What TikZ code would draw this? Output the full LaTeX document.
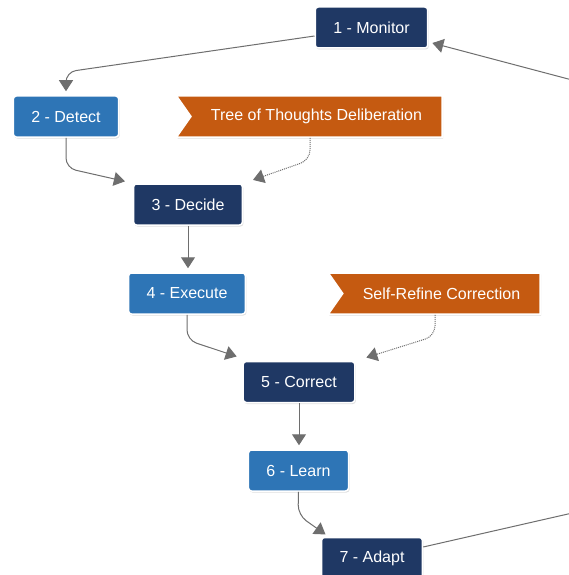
\documentclass[tikz,border=0pt]{standalone}
\usepackage{fontspec}
\setmainfont{Liberation Sans}
\usetikzlibrary{shapes.symbols,shadows,arrows.meta}
\definecolor{navy}{HTML}{1F3864}
\definecolor{stepblue}{HTML}{2E75B6}
\definecolor{rust}{HTML}{C55A11}
\definecolor{linkgray}{HTML}{6E6E6E}
\begin{document}
\begin{tikzpicture}[x=1pt,y=-1pt,
	box/.style={rounded corners=3pt,draw=white,line width=1.5pt,text=white,font=\fontsize{16}{19}\selectfont,inner xsep=18pt,minimum height=41pt,drop shadow={shadow xshift=1pt,shadow yshift=-1.5pt,opacity=0.25}},
	dark/.style={box,fill=navy},
	light/.style={box,fill=stepblue},
	banner/.style={signal,signal to=nowhere,signal from=west,signal pointer angle=110,draw=white,line width=1.5pt,fill=rust,text=white,font=\fontsize{16}{19}\selectfont,inner xsep=20pt,minimum height=41pt,drop shadow={shadow xshift=1pt,shadow yshift=-1.5pt,opacity=0.25}},
	link/.style={draw=linkgray,line width=1pt,rounded corners=10pt,shorten >=4pt,-{Triangle[length=11pt,width=14pt]}},
	hint/.style={link,densely dotted}]
		\fill[white] (0,0) rectangle (569,575);
		\useasboundingbox (0,0) rectangle (569,575);
		\clip (0,0) rectangle (569,575);
		\node[dark] (mon) at (371.5,27.5) {1 - Monitor};
		\node[light] (det) at (66,116.5) {2 - Detect};
		\node[banner] (tot) at (316.5,116.5) {Tree of Thoughts Deliberation};
		\node[dark] (dec) at (188,204.5) {3 - Decide};
		\node[light] (exe) at (187,293.5) {4 - Execute};
		\node[banner] (sre) at (441.5,293.5) {Self-Refine Correction};
		\node[dark] (cor) at (299,382) {5 - Correct};
		\node[light] (lea) at (298.5,470.5) {6 - Learn};
		\node[dark] (ada) at (372,558) {7 - Adapt};
		\coordinate (k1) at (66,72);
		\coordinate (k2) at (66,168);
		\coordinate (k3) at (310,160);
		\coordinate (k4) at (187,340);
		\coordinate (k5) at (435,336);
		\coordinate (k6) at (298,515);
		\coordinate (k7) at (625,501);
		\coordinate (k8) at (625,94);
		\draw[link] ([yshift=-8.5pt]mon.west) -- (k1) -- (det.north);
		\draw[link] (det.south) -- (k2) -- ([xshift=-4pt,yshift=1pt]dec.north west);
		\draw[hint] (tot.south -| k3) -- (k3) -- ([xshift=6pt,yshift=2pt]dec.north east);
		\draw[link] (dec.south) -- (dec.south |- exe.north);
		\draw[link] (exe.south) -- (k4) -- ([xshift=-2pt,yshift=3pt]cor.north west);
		\draw[hint] (sre.south -| k5) -- (k5) -- ([xshift=7pt,yshift=2pt]cor.north east);
		\draw[link] (cor.south) -- (cor.south |- lea.north);
		\draw[link] (lea.south) -- (k6) -- ([xshift=8pt]ada.north west);
		\draw[link] ([yshift=11pt]ada.east) -- (k7) -- (k8) -- ([yshift=-14.5pt]mon.east);
\end{tikzpicture}
\end{document}
